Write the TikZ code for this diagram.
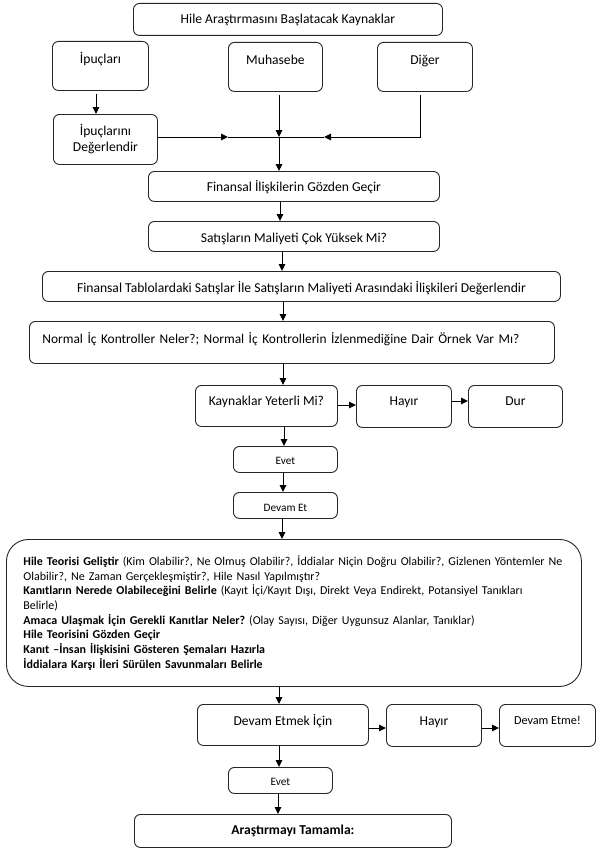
\documentclass[tikz,border=0pt]{standalone}
\usepackage{fontspec}
\setmainfont{Carlito}
\usetikzlibrary{arrows.meta,calc}
\frenchspacing
\begin{document}
\begin{tikzpicture}[x=1pt,y=-1pt,
  bx/.style={draw=black!85, line width=0.9pt, rounded corners=6pt, inner sep=0pt, anchor=north west,
    font=\fontsize{13.6}{16}\selectfont, align=center},
  sm/.style={font=\fontsize{11.3}{13}\selectfont},
  arr/.style={line width=1pt, -{Triangle[length=7pt,width=6.5pt]}},
  ln/.style={line width=1pt}]
\fill[white] (0,0) rectangle (597,851);
\useasboundingbox (0,0) rectangle (597,851);

% boxes
\node[bx, minimum width=309pt, text height=20.5pt, text depth=11.5pt] (src) at (133,3) {Hile Araştırmasını Başlatacak Kaynaklar};
\node[bx, minimum width=96pt, text height=22.5pt, text depth=26.5pt] (ipu) at (52,41) {İpuçları};
\node[bx, minimum width=94pt, text height=22.5pt, text depth=26.5pt] (muh) at (228,42) {Muhasebe};
\node[bx, minimum width=95pt, text height=22.5pt, text depth=26.5pt] (dig) at (377,42) {Diğer};
\node[bx, minimum width=104pt, minimum height=50pt] (deg) at (53,114) {İpuçlarını\\Değerlendir};
\node[bx, minimum width=291pt, text height=20.5pt, text depth=9.5pt] (fin1) at (148,171) {Finansal İlişkilerin Gözden Geçir};
\node[bx, minimum width=291pt, text height=21.5pt, text depth=8.5pt] (sat) at (148,221) {Satışların Maliyeti Çok Yüksek Mi?};
\node[bx, minimum width=518pt, text height=21.5pt, text depth=8.5pt] (fin2) at (42,271) {Finansal Tablolardaki Satışlar İle Satışların Maliyeti Arasındaki İlişkileri Değerlendir};
\node[bx, inner xsep=13pt, text width=499pt, align=left, text height=22.5pt, text depth=19.5pt,
  font=\fontsize{13.4}{16}\selectfont] (norm) at (29,321) {Normal İç Kontroller Neler?; Normal İç Kontrollerin İzlenmediğine Dair Örnek Var Mı?};
\node[bx, minimum width=142pt, text height=20.5pt, text depth=20.5pt] (kay) at (195,385) {Kaynaklar Yeterli Mi?};
\node[bx, minimum width=95pt, text height=20pt, text depth=22pt] (hay1) at (356,385) {Hayır};
\node[bx, minimum width=94pt, text height=20pt, text depth=22pt] (dur) at (468,385) {Dur};
\node[bx, sm, minimum width=104pt, text height=17.6pt, text depth=8.4pt] (evet1) at (233,446) {Evet};
\node[bx, sm, minimum width=104pt, text height=18.6pt, text depth=7.4pt] (dev1) at (233,492) {Devam Et};
\node[bx, rounded corners=22pt, inner xsep=17pt, text width=541pt, align=left, minimum height=147pt,
  font=\fontsize{12}{14.7}\selectfont] (big) at (6,539) {%
\textbf{Hile Teorisi Geliştir} (Kim Olabilir?, Ne Olmuş Olabilir?, İddialar Niçin Doğru Olabilir?, Gizlenen Yöntemler Ne\\
Olabilir?, Ne Zaman Gerçekleşmiştir?, Hile Nasıl Yapılmıştır?\\
\textbf{Kanıtların Nerede Olabileceğini Belirle} (Kayıt İçi/Kayıt Dışı, Direkt Veya Endirekt, Potansiyel Tanıkları\\
Belirle)\\
\textbf{Amaca Ulaşmak İçin Gerekli Kanıtlar Neler?} (Olay Sayısı, Diğer Uygunsuz Alanlar, Tanıklar)\\
\textbf{Hile Teorisini Gözden Geçir}\\
\textbf{Kanıt –İnsan İlişkisini Gösteren Şemaları Hazırla}\\
\textbf{İddialara Karşı İleri Sürülen Savunmaları Belirle}};
\node[bx, minimum width=171pt, text height=21.5pt, text depth=19.5pt] (dvm) at (197,704) {Devam Etmek İçin};
\node[bx, minimum width=95pt, text height=21.5pt, text depth=20.5pt] (hay2) at (386,704) {Hayır};
\node[bx, minimum width=96pt, text height=20pt, text depth=22pt, font=\fontsize{12.2}{14}\selectfont] (dme) at (499,704) {Devam Etme!};
\node[bx, sm, minimum width=104pt, text height=17.6pt, text depth=8.4pt] (evet2) at (228,767) {Evet};
\node[bx, minimum width=317pt, text height=20.5pt, text depth=12.5pt, font=\fontsize{13.6}{16}\bfseries] (ara) at (134,814) {Araştırmayı Tamamla:};

% junction
\coordinate (J) at (279,137);
\coordinate (Ja) at (228,137);
\coordinate (Jb) at (324,137);

% connectors
\draw[arr] ($(ipu.south -| 96,0)+(0,3)$) -- (deg.north -| 96,0);
\draw[arr] (deg.east |- J) -- (Ja);
\draw[ln] (Ja) -- (J);
\draw[arr] ($(muh.south -| J)+(0,3)$) -- (J);
\draw[arr] ($(dig.south -| 420,0)+(0,3)$) |- (Jb);
\draw[ln] (Jb) -- (J);
\draw[arr] (J) -- (fin1.north -| J);
\draw[arr] (fin1.south -| 280,0) -- (sat.north -| 280,0);
\draw[arr] (sat.south -| 282,0) -- (fin2.north -| 282,0);
\draw[arr] (fin2.south -| 283,0) -- (norm.north -| 283,0);
\draw[arr] (norm.south -| 283,0) -- (kay.north -| 283,0);
\draw[arr] (kay.east |- 0,405) -- (hay1.west |- 0,405);
\draw[arr] (hay1.east |- 0,401) -- (dur.west |- 0,401);
\draw[arr] (kay.south -| 284,0) -- (evet1.north -| 284,0);
\draw[arr] (evet1.south -| 283,0) -- (dev1.north -| 283,0);
\draw[arr] (dev1.south -| 282,0) -- (big.north -| 282,0);
\draw[arr] (big.south -| 279,0) -- (dvm.north -| 279,0);
\draw[arr] (dvm.east |- 0,728) -- (hay2.west |- 0,728);
\draw[arr] (hay2.east |- 0,728) -- (dme.west |- 0,728);
\draw[arr] (dvm.south -| 279,0) -- (evet2.north -| 279,0);
\draw[arr] (evet2.south -| 278,0) -- (ara.north -| 278,0);
\end{tikzpicture}
\end{document}
